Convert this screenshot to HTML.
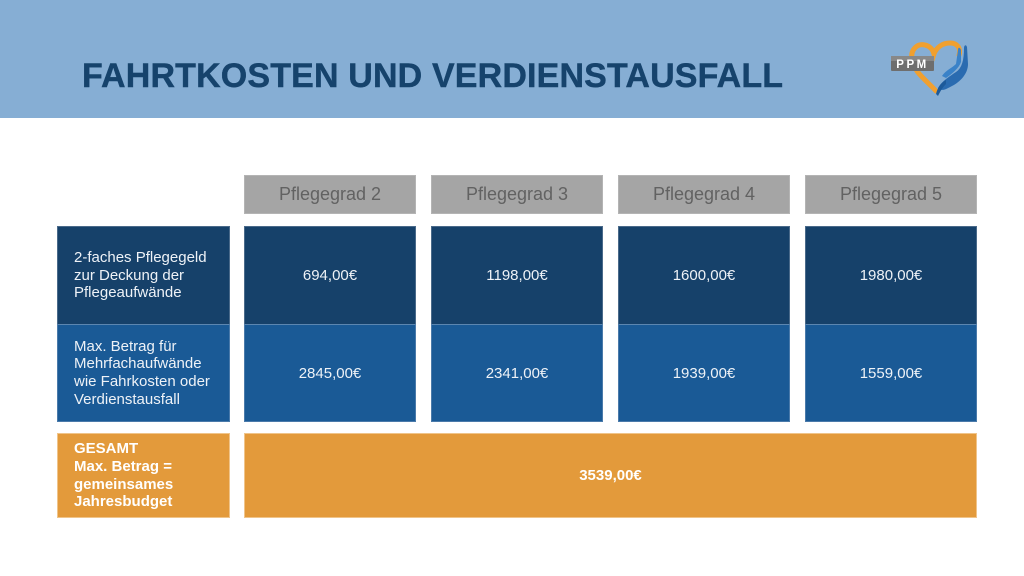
<!DOCTYPE html>
<html><head><meta charset="utf-8">
<style>
html,body{margin:0;padding:0;}
body{width:1024px;height:576px;position:relative;background:#fff;overflow:hidden;font-family:"Liberation Sans",sans-serif;}
.band{position:absolute;left:0;top:0;width:1024px;height:118px;background:#86aed4;}
.title{position:absolute;left:82px;top:59px;font-size:34px;line-height:34px;font-weight:bold;color:#16436c;letter-spacing:0.15px;white-space:nowrap;-webkit-text-stroke:0.4px #16436c;}
.cell{position:absolute;box-sizing:border-box;display:flex;align-items:center;justify-content:center;text-align:center;color:#eef2f7;font-size:15px;}
.hd{background:#a5a5a5;color:#626262;font-size:18px;top:175px;height:39px;border:1px solid #b4b4b4;}
.r1{background:#16416a;top:226px;height:98px;border:1px solid #4a6a8a;border-bottom:none;}
.r2{background:#1a5a96;top:324px;height:98px;border:1px solid #4a7aaa;border-top:1px solid #5c86b0;}
.lab{justify-content:flex-start;text-align:left;padding-left:16px;line-height:17.7px;}
.or{background:#e39a3b;top:433px;height:85px;border:1px solid #f0c48a;color:#fff;font-weight:bold;}
</style></head><body>
<div class="band"></div>
<div class="title">FAHRTKOSTEN UND VERDIENSTAUSFALL</div>
<svg style="position:absolute;left:880px;top:36px" width="95" height="62" viewBox="0 0 95 62">
  <path d="M56 55 C46 44 34 36 32 24 C30 13 38 7 45 9 C50 10 53 14 54 18 C56 12 62 7 70 7 C78 7 81 13 79 19" fill="none" stroke="#f0a030" stroke-width="5" stroke-linecap="round"/>
  <path d="M58 52 C62 45 70 40 76 36 C82 32 84 24 84 12 C84 9 86 8 87 11 L88 28 C88 38 80 46 72 50 C66 53 62 56 58 52 Z" fill="#2a6bb0"/>
  <path d="M62 40 C66 34 72 32 76 28 L78 14 C78 11 80 11 81 14 L81 26 C79 32 72 38 66 42 Z" fill="#3a82c8"/>
  <path d="M56 58 C58 50 62 46 66 44 L66 48 C62 52 60 56 58 60 Z" fill="#1d5a9a"/>
  <rect x="11" y="20" width="43" height="15" rx="1" fill="#6e6e6e"/>
  <rect x="11" y="20" width="43" height="5" fill="#888"/>
  <text x="32.5" y="32" text-anchor="middle" font-family="Liberation Sans, sans-serif" font-weight="bold" font-size="11.5" fill="#fff" letter-spacing="2.5">PPM</text>
</svg>

<div class="cell hd" style="left:244px;width:172px;">Pflegegrad 2</div>
<div class="cell hd" style="left:431px;width:172px;">Pflegegrad 3</div>
<div class="cell hd" style="left:618px;width:172px;">Pflegegrad 4</div>
<div class="cell hd" style="left:805px;width:172px;">Pflegegrad 5</div>

<div class="cell r1 lab" style="left:57px;width:173px;"><div>2-faches Pflegegeld<br>zur Deckung der<br>Pflegeaufwände</div></div>
<div class="cell r1" style="left:244px;width:172px;">694,00€</div>
<div class="cell r1" style="left:431px;width:172px;">1198,00€</div>
<div class="cell r1" style="left:618px;width:172px;">1600,00€</div>
<div class="cell r1" style="left:805px;width:172px;">1980,00€</div>

<div class="cell r2 lab" style="left:57px;width:173px;"><div>Max. Betrag für<br>Mehrfachaufwände<br>wie Fahrkosten oder<br>Verdienstausfall</div></div>
<div class="cell r2" style="left:244px;width:172px;">2845,00€</div>
<div class="cell r2" style="left:431px;width:172px;">2341,00€</div>
<div class="cell r2" style="left:618px;width:172px;">1939,00€</div>
<div class="cell r2" style="left:805px;width:172px;">1559,00€</div>

<div class="cell or lab" style="left:57px;width:173px;line-height:17.8px;"><div>GESAMT<br>Max. Betrag =<br>gemeinsames<br>Jahresbudget</div></div>
<div class="cell or" style="left:244px;width:733px;">3539,00€</div>
</body></html>
